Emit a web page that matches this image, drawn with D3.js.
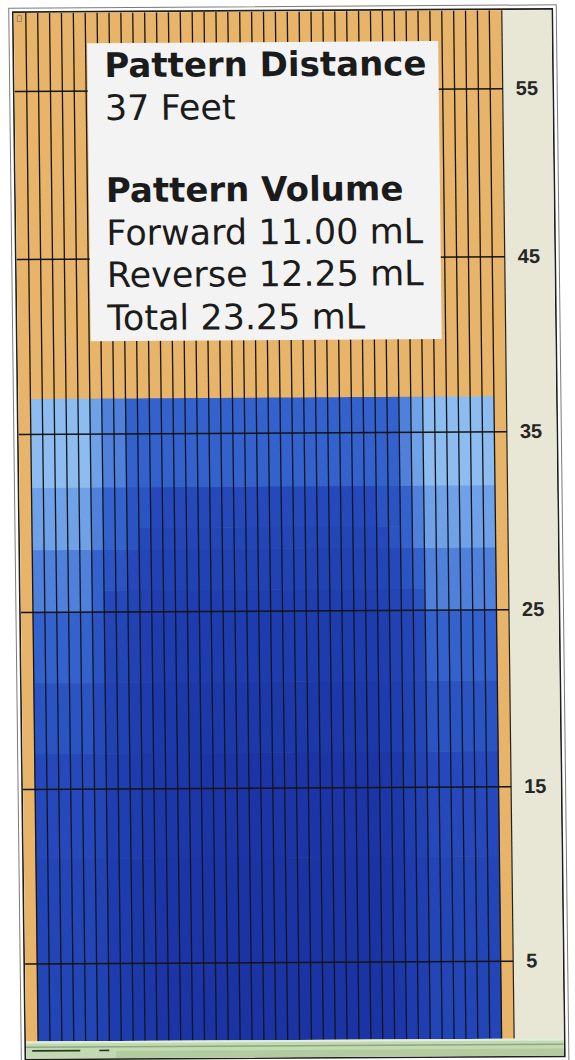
<!DOCTYPE html>
<html><head><meta charset="utf-8">
<script src="https://cdn.jsdelivr.net/npm/d3@7"></script>
<style>
html,body{margin:0;padding:0;background:#fff;}
svg{display:block;}
</style></head>
<body>
<svg id="chart" width="575" height="1060"></svg>
<script>
// ---------------- data ----------------
const boardCount = 39;
const tickFeet = [5, 15, 25, 35, 45, 55];
const tickLabels = ["5", "15", "25", "35", "45", "55"];
const patternDistanceFeet = 37;
const infoHeadings = ["Pattern Distance", "Pattern Volume"];
const infoDistance = ["37 Feet"];
const infoVolumes = ["Forward 11.00 mL", "Reverse 12.25 mL", "Total 23.25 mL"];

// oil loads: board range, distance range (feet), units
const loadStartBoard = [1, 6, 7, 9, 11, 10, 7, 1, 1, 1, 1, 1, 15, 1];
const loadEndBoard   = [39, 33, 32, 31, 29, 30, 33, 39, 39, 39, 39, 39, 31, 39];
const loadFromFeet   = [0, 0, 0, 0, 0, 0, 0, 0, 0, 0, 0, 0, 0, 0];
const loadToFeet     = [37, 37, 37, 37, 32, 29.7, 26.2, 32, 28.5, 25, 21, 17, 17, 11];
const loadUnits      = [1, 1, 1, 1, 1, 1, 1, 1, 1, 1, 1, 1, 1, 1];

// colour ramp for total units
const unitSteps  = [1, 2, 3, 4, 5, 6, 7, 8, 9, 10, 11, 13, 14];
const unitColors = ["#8cbcf0", "#6fa1e8", "#4f80db", "#3361cd", "#2a54c4", "#2549bc", "#2245b8",
                    "#2042b5", "#1e3eb2", "#1d3caf", "#1c39ac", "#1b35a8", "#1a33a5"];

// ---------------- layout ----------------
const svg = d3.select("#chart");
const root = svg.append("g").attr("transform", "matrix(1,-0.006,0.012,1,-6.36,1.722)");

const laneLeft = 20, laneRight = 508, laneTop = 11.5, laneBottom = 1040;
const x = d3.scaleLinear().domain([0, boardCount]).range([32, 495.5]);
// piecewise distance scale (follows the scanned tick spacing)
const y = d3.scaleLinear()
  .domain([0, 5, 15, 25, 35, 45, 55, 60])
  .range([1049.3, 962, 787.5, 610.5, 432.5, 257.5, 89.5, 5.5]);
const color = d3.scaleLinear().domain(unitSteps).range(unitColors).clamp(true);

// frames
root.append("rect").attr("x", 15).attr("y", 6.5).attr("width", 547.5).attr("height", 1056)
  .attr("fill", "none").attr("stroke", "#7a7a7a").attr("stroke-width", 1);
root.append("rect").attr("x", 19).attr("y", 10.5).attr("width", 539.5).attr("height", 1047.5)
  .attr("fill", "#fff").attr("stroke", "#1e1e1e").attr("stroke-width", 1.6);

// lane and side panel
root.append("rect").attr("x", laneLeft).attr("y", laneTop).attr("width", laneRight - laneLeft)
  .attr("height", laneBottom - laneTop).attr("fill", "#e7b469");
root.append("rect").attr("x", laneRight).attr("y", laneTop).attr("width", 557.5 - laneRight)
  .attr("height", laneBottom - laneTop).attr("fill", "#e8e7d6");
root.append("line").attr("x1", laneRight).attr("x2", laneRight).attr("y1", laneTop).attr("y2", laneBottom)
  .attr("stroke", "#222").attr("stroke-width", 1.2);

// clip
root.append("clipPath").attr("id", "laneClip").append("rect")
  .attr("x", laneLeft).attr("y", laneTop).attr("width", laneRight - laneLeft).attr("height", laneBottom - laneTop);

// build oil grid from loads
const breaks = Array.from(new Set([0, patternDistanceFeet, ...loadFromFeet, ...loadToFeet]))
  .sort((a, b) => a - b).filter(v => v <= patternDistanceFeet);
const cells = [];
for (let b = 1; b <= boardCount; b++) {
  for (let i = 0; i < breaks.length - 1; i++) {
    const f0 = breaks[i], f1 = breaks[i + 1], mid = (f0 + f1) / 2;
    let u = 0;
    for (let k = 0; k < loadUnits.length; k++) {
      if (b >= loadStartBoard[k] && b <= loadEndBoard[k] && mid >= loadFromFeet[k] && mid <= loadToFeet[k]) u += loadUnits[k];
    }
    if (u > 0) cells.push({ board: b, from: f0, to: f1, units: u });
  }
}
const cellG = root.append("g").attr("clip-path", "url(#laneClip)");
cellG.selectAll("rect").data(cells).join("rect")
  .attr("x", d => x(d.board - 1) - 0.3)
  .attr("width", d => x(d.board) - x(d.board - 1) + 0.6)
  .attr("y", d => y(d.to))
  .attr("height", d => y(d.from) - y(d.to) + 0.6)
  .attr("fill", d => color(d.units));

// board lines
cellG.selectAll("line.board").data(d3.range(0, boardCount + 1)).join("line")
  .attr("class", "board")
  .attr("x1", d => x(d)).attr("x2", d => x(d))
  .attr("y1", laneTop).attr("y2", laneBottom)
  .attr("stroke", "#161616").attr("stroke-width", 1.3);

// distance axis
const axis = d3.axisRight(y).tickValues(tickFeet).tickFormat((d, i) => tickLabels[i])
  .tickSize(-(laneRight - laneLeft)).tickPadding(13);
const ax = root.append("g").attr("transform", `translate(${laneRight},0)`).call(axis);
ax.select(".domain").remove();
ax.selectAll(".tick line").attr("stroke", "#141414").attr("stroke-width", 1.5);
ax.selectAll(".tick text").attr("fill", "#262626").attr("font-family", "Liberation Sans, Arial, sans-serif")
  .attr("font-size", 20).attr("font-weight", "bold");

// info box
root.append("rect").attr("x", 93).attr("y", 42).attr("width", 351).attr("height", 298).attr("fill", "#f3f3f3");
const infoRows = [
  { t: infoHeadings[0], bold: true, yb: 76 },
  { t: infoDistance[0], bold: false, yb: 119 },
  { t: infoHeadings[1], bold: true, yb: 201 },
  { t: infoVolumes[0], bold: false, yb: 244 },
  { t: infoVolumes[1], bold: false, yb: 286 },
  { t: infoVolumes[2], bold: false, yb: 329 }
];
root.append("g").selectAll("text").data(infoRows).join("text")
  .attr("x", 110).attr("y", d => d.yb)
  .attr("font-family", "DejaVu Sans, Verdana, sans-serif")
  .attr("font-size", d => d.bold ? 34 : 35)
  .attr("font-weight", d => d.bold ? "bold" : "normal")
  .attr("fill", "#1b1b1b")
  .text(d => d.t);

// bottom green bar
const bar = root.append("g");
bar.append("rect").attr("x", 20).attr("y", 1040).attr("width", 537.5).attr("height", 17).attr("fill", "#c3d9b2");
bar.append("rect").attr("x", 20).attr("y", 1040).attr("width", 537.5).attr("height", 2).attr("fill", "#e3eedb");
bar.append("rect").attr("x", 20).attr("y", 1045).attr("width", 537.5).attr("height", 1.5).attr("fill", "#8aa97c");
bar.append("rect").attr("x", 110).attr("y", 1050).attr("width", 447.5).attr("height", 7).attr("fill", "#b2cb9f");
bar.append("rect").attr("x", 26).attr("y", 1048.5).attr("width", 48).attr("height", 1.6).attr("fill", "#2a3a2a");
bar.append("rect").attr("x", 93).attr("y", 1048.5).attr("width", 10).attr("height", 1.6).attr("fill", "#2a3a2a");

// small corner marker
root.append("rect").attr("x", 23.5).attr("y", 14).attr("width", 4).attr("height", 6)
  .attr("fill", "none").attr("stroke", "#8a7a60").attr("stroke-width", 0.8);
</script>
</body></html>
